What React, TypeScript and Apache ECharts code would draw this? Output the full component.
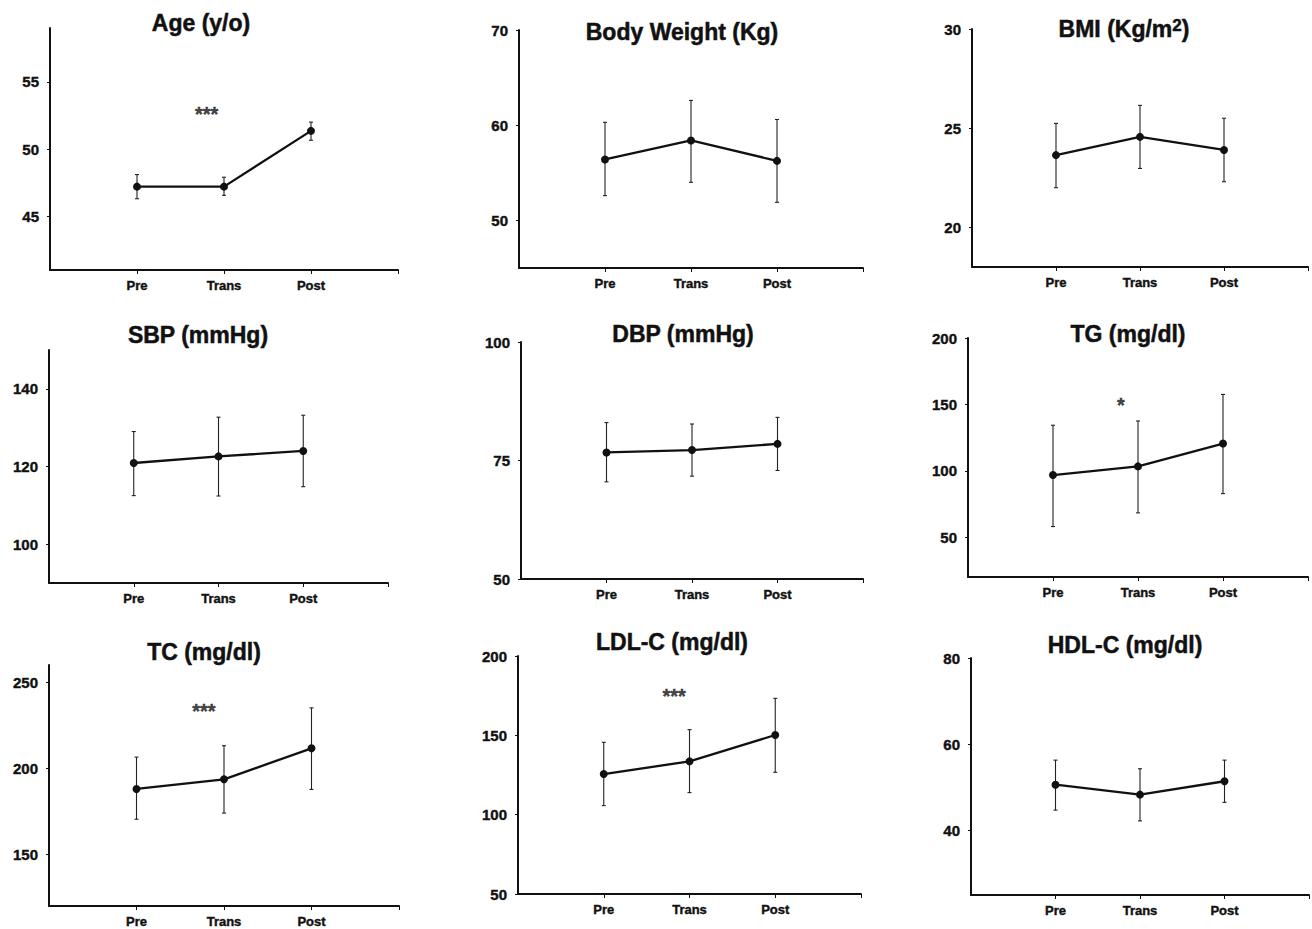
import React, { useEffect, useRef } from 'react';
import * as echarts from 'echarts';

const categories = ['Pre', 'Trans', 'Post'];
const catPositions = [1, 2, 3];

const ageMean = [47.2, 47.2, 51.35];
const ageLow = [46.3, 46.55, 50.65];
const ageHigh = [48.1, 47.9, 52.0];
const ageTicks = [45, 50, 55];
const ageStar = [1.8, 53.0];

const bwMean = [56.4, 58.4, 56.25];
const bwLow = [52.6, 54.0, 51.9];
const bwHigh = [60.3, 62.6, 60.6];
const bwTicks = [50, 60, 70];

const bmiMean = [23.64, 24.56, 23.9];
const bmiLow = [22.0, 22.97, 22.3];
const bmiHigh = [25.24, 26.15, 25.5];
const bmiTicks = [20, 25, 30];

const sbpMean = [120.9, 122.6, 124.0];
const sbpLow = [112.5, 112.4, 114.8];
const sbpHigh = [129.0, 132.7, 133.2];
const sbpTicks = [100, 120, 140];

const dbpMean = [76.7, 77.2, 78.5];
const dbpLow = [70.5, 71.7, 72.9];
const dbpHigh = [83.0, 82.7, 84.1];
const dbpTicks = [50, 75, 100];

const tgMean = [96.8, 103.3, 120.5];
const tgLow = [58.0, 68.3, 82.8];
const tgHigh = [134.3, 137.5, 157.5];
const tgTicks = [50, 100, 150, 200];
const tgStar = [1.8, 153];

const tcMean = [188.0, 193.6, 211.6];
const tcLow = [170.4, 174.0, 187.7];
const tcHigh = [206.5, 213.1, 235.1];
const tcTicks = [150, 200, 250];
const tcStar = [1.77, 236];

const ldlMean = [125.6, 133.6, 150.2];
const ldlLow = [105.7, 113.9, 126.7];
const ldlHigh = [145.6, 153.6, 173.3];
const ldlTicks = [50, 100, 150, 200];
const ldlStar = [1.82, 178];

const hdlMean = [50.6, 48.3, 51.4];
const hdlLow = [44.7, 42.2, 46.5];
const hdlHigh = [56.3, 54.3, 56.3];
const hdlTicks = [40, 60, 80];

const panels = [
  { title: '{t|Age (y/o)}', mean: ageMean, low: ageLow, high: ageHigh, min: 41, max: 59, ticks: ageTicks, star: ageStar, starText: '***' },
  { title: '{t|Body Weight (Kg)}', mean: bwMean, low: bwLow, high: bwHigh, min: 45, max: 70, ticks: bwTicks },
  { title: '{t|BMI (Kg/m}{s|2}{t|)}', mean: bmiMean, low: bmiLow, high: bmiHigh, min: 18, max: 30, ticks: bmiTicks },
  { title: '{t|SBP (mmHg)}', mean: sbpMean, low: sbpLow, high: sbpHigh, min: 90, max: 150, ticks: sbpTicks },
  { title: '{t|DBP (mmHg)}', mean: dbpMean, low: dbpLow, high: dbpHigh, min: 50, max: 100, ticks: dbpTicks },
  { title: '{t|TG (mg/dl)}', mean: tgMean, low: tgLow, high: tgHigh, min: 20, max: 200, ticks: tgTicks, star: tgStar, starText: '*' },
  { title: '{t|TC (mg/dl)}', mean: tcMean, low: tcLow, high: tcHigh, min: 120, max: 260, ticks: tcTicks, star: tcStar, starText: '***' },
  { title: '{t|LDL-C (mg/dl)}', mean: ldlMean, low: ldlLow, high: ldlHigh, min: 50, max: 200, ticks: ldlTicks, star: ldlStar, starText: '***' },
  { title: '{t|HDL-C (mg/dl)}', mean: hdlMean, low: hdlLow, high: hdlHigh, min: 25, max: 80, ticks: hdlTicks },
];

const layout = [
  { l: 50, t: 28, r: 398, b: 270, tx: 201, ty: 23 },
  { l: 519, t: 30, r: 863, b: 268, tx: 682, ty: 31.5 },
  { l: 972, t: 29, r: 1308, b: 267, tx: 1124, ty: 28.5 },
  { l: 49, t: 350, r: 388, b: 583, tx: 198, ty: 335 },
  { l: 521, t: 342, r: 863, b: 579, tx: 683, ty: 334 },
  { l: 968, t: 338, r: 1308, b: 577, tx: 1128, ty: 334 },
  { l: 49, t: 665, r: 399, b: 906, tx: 204, ty: 651.5 },
  { l: 518, t: 656, r: 861, b: 894, tx: 672, ty: 641.5 },
  { l: 971, t: 658, r: 1309, b: 895, tx: 1125, ty: 645 },
];

const FONT = '"Liberation Sans", Arial, Helvetica, sans-serif';
const INK = '#111';

export default function App() {
  const ref = useRef<HTMLDivElement>(null);
  useEffect(() => {
    if (!ref.current) return;
    const chart = echarts.init(ref.current, undefined, { renderer: 'svg' });
    const grid: any[] = [];
    const xAxis: any[] = [];
    const yAxis: any[] = [];
    const series: any[] = [];
    const graphic: any[] = [];

    panels.forEach((p, i) => {
      const L = layout[i];
      grid.push({ left: L.l, top: L.t, width: L.r - L.l, height: L.b - L.t, containLabel: false });
      xAxis.push({
        type: 'value', gridIndex: i, min: 0, max: 4,
        axisLine: { show: true, onZero: false, lineStyle: { color: INK, width: 2 } },
        axisTick: { show: true, length: 4, customValues: [1, 2, 3, 4], lineStyle: { color: INK, width: 1 } },
        axisLabel: {
          show: true, customValues: catPositions, margin: 9,
          formatter: (v: number) => categories[catPositions.indexOf(v)] ?? '',
          fontFamily: FONT, fontWeight: 'bold', fontSize: 13, color: INK,
          textBorderColor: INK, textBorderWidth: 0.4,
        },
        splitLine: { show: false },
      });
      yAxis.push({
        type: 'value', gridIndex: i, min: p.min, max: p.max,
        axisLine: { show: true, onZero: false, lineStyle: { color: INK, width: 2 } },
        axisTick: { show: true, length: 3, customValues: p.ticks, lineStyle: { color: INK, width: 1 } },
        axisLabel: {
          show: true, customValues: p.ticks, margin: 11,
          fontFamily: FONT, fontWeight: 'bold', fontSize: 15, color: INK,
          textBorderColor: INK, textBorderWidth: 0.4,
        },
        splitLine: { show: false },
      });
      series.push({
        type: 'custom', xAxisIndex: i, yAxisIndex: i, z: 2,
        data: catPositions.map((x, k) => [x, p.low[k], p.high[k]]),
        renderItem: (_params: any, api: any) => {
          const x = api.value(0);
          const lo = api.coord([x, api.value(1)]);
          const hi = api.coord([x, api.value(2)]);
          const w = 2;
          const style = { stroke: '#222', lineWidth: 1.1 };
          return {
            type: 'group',
            children: [
              { type: 'line', shape: { x1: lo[0], y1: lo[1], x2: hi[0], y2: hi[1] }, style },
              { type: 'line', shape: { x1: lo[0] - w, y1: lo[1], x2: lo[0] + w, y2: lo[1] }, style },
              { type: 'line', shape: { x1: hi[0] - w, y1: hi[1], x2: hi[0] + w, y2: hi[1] }, style },
            ],
          };
        },
      });
      series.push({
        type: 'line', xAxisIndex: i, yAxisIndex: i, z: 3,
        data: catPositions.map((x, k) => [x, p.mean[k]]),
        symbol: 'circle', symbolSize: 8,
        lineStyle: { color: INK, width: 2.3 },
        itemStyle: { color: INK },
      });
      if (p.star) {
        series.push({
          type: 'scatter', xAxisIndex: i, yAxisIndex: i, z: 4,
          data: [p.star], symbolSize: 0,
          label: {
            show: true, position: 'inside', offset: [0, 5],
            formatter: () => p.starText,
            fontFamily: FONT, fontWeight: 'bold', fontSize: 20, color: INK,
            textBorderColor: INK, textBorderWidth: 0.4,
          },
        });
      }
      graphic.push({
        type: 'text', x: L.tx, y: L.ty,
        style: {
          text: p.title,
          textAlign: 'center', textVerticalAlign: 'middle',
          rich: {
            t: { fontFamily: FONT, fontWeight: 'bold', fontSize: 23, fill: INK, stroke: INK, lineWidth: 0.5 },
            s: { fontFamily: FONT, fontWeight: 'bold', fontSize: 17, fill: INK, stroke: INK, lineWidth: 0.5, verticalAlign: 'top', padding: [0, 0, 7, 0] },
          },
        },
      });
    });

    chart.setOption({
      animation: false,
      backgroundColor: '#ffffff',
      grid, xAxis, yAxis, series, graphic,
    });
    return () => chart.dispose();
  }, []);
  return (
    <div
      ref={ref}
      style={{ position: 'fixed', left: 0, top: 0, width: 1312, height: 929, background: '#fff' }}
    />
  );
}
